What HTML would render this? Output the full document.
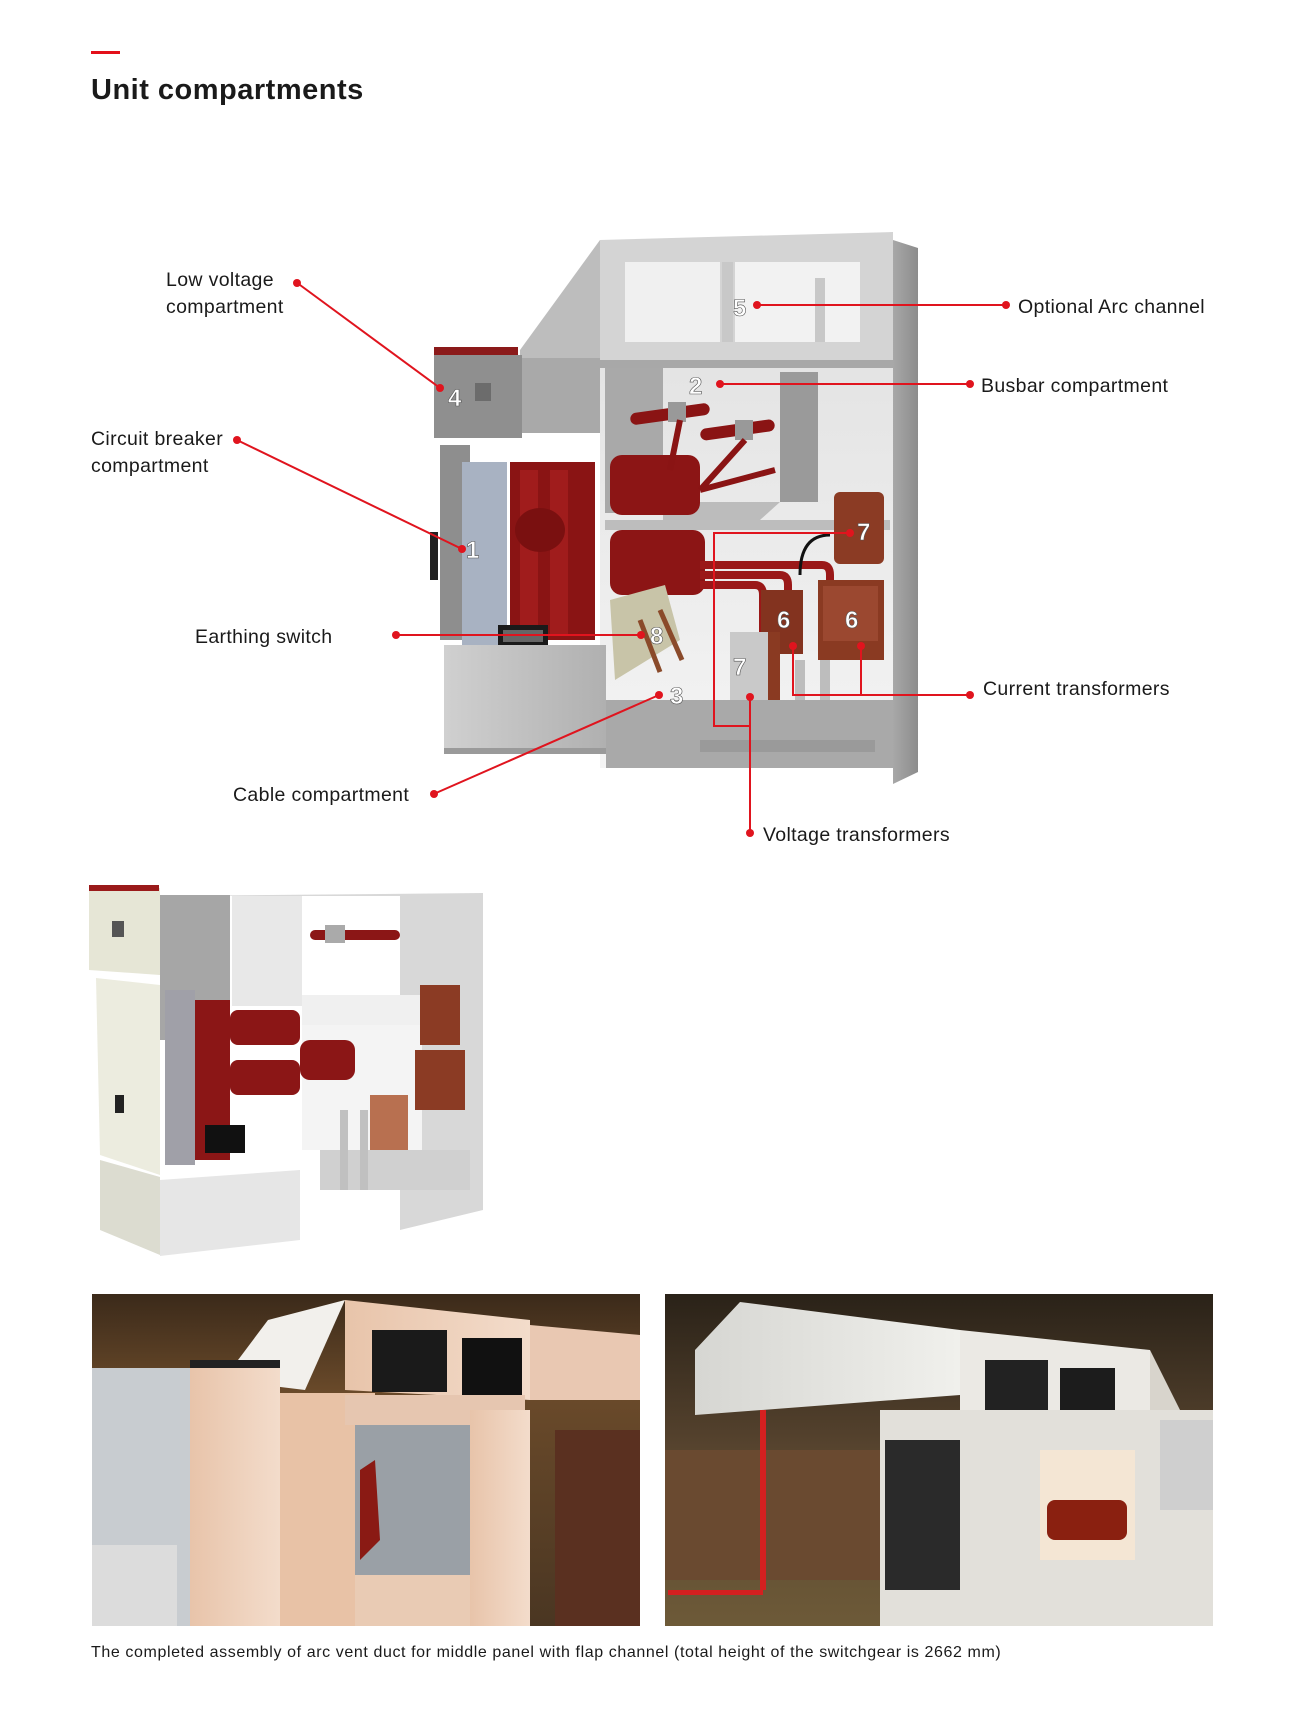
<!DOCTYPE html>
<html><head><meta charset="utf-8"><style>
html,body{margin:0;padding:0;background:#fff;}
body{width:1303px;height:1721px;position:relative;overflow:hidden;font-family:"Liberation Sans",sans-serif;}
</style></head><body>
<svg width="1303" height="1721" viewBox="0 0 1303 1721" xmlns="http://www.w3.org/2000/svg" style="position:absolute;left:0;top:0">
<defs>
<linearGradient id="gside" x1="0" x2="1"><stop offset="0" stop-color="#a8a8a8"/><stop offset="1" stop-color="#8c8c8c"/></linearGradient>
<linearGradient id="gint" x1="0" y1="0" x2="0" y2="1"><stop offset="0" stop-color="#e4e4e4"/><stop offset="1" stop-color="#f4f4f4"/></linearGradient>
<linearGradient id="gwall" x1="0" x2="1"><stop offset="0" stop-color="#d0d0d0"/><stop offset="1" stop-color="#b0b0b0"/></linearGradient>
<linearGradient id="gp1" x1="0" y1="0" x2="0" y2="1"><stop offset="0" stop-color="#3b2a1a"/><stop offset="0.3" stop-color="#6a4a2a"/><stop offset="1" stop-color="#4a3622"/></linearGradient>
<linearGradient id="gp2" x1="0" y1="0" x2="0" y2="1"><stop offset="0" stop-color="#2a2218"/><stop offset="0.5" stop-color="#5a4630"/><stop offset="1" stop-color="#6d5a38"/></linearGradient>
<linearGradient id="beige" x1="0" x2="1"><stop offset="0" stop-color="#e8c4aa"/><stop offset="1" stop-color="#f3dccb"/></linearGradient>
<linearGradient id="silver" x1="0" x2="1"><stop offset="0" stop-color="#d6d6d2"/><stop offset="1" stop-color="#f0f0ec"/></linearGradient>
</defs>

<rect x="91" y="51" width="29" height="3" fill="#e3101a"/>
<text x="91" y="99" font-family="Liberation Sans, sans-serif" font-weight="bold" font-size="29" letter-spacing="0.5" fill="#1a1a1a">Unit compartments</text>

<!-- ===== main diagram ===== -->
<polygon points="893,240 918,248 918,772 893,784" fill="url(#gside)"/>
<polygon points="600,240 893,232 893,365 600,365" fill="#d4d4d4"/>
<rect x="625" y="262" width="95" height="80" fill="#f0f0f0"/>
<rect x="735" y="262" width="125" height="80" fill="#f2f2f2"/>
<rect x="722" y="262" width="11" height="80" fill="#c8c8c8"/>
<rect x="815" y="278" width="10" height="64" fill="#c8c8c8"/>
<polygon points="520,350 600,240 600,365 520,365" fill="#bdbdbd"/>
<rect x="600" y="360" width="293" height="8" fill="#a8a8a8"/>
<rect x="600" y="368" width="293" height="400" fill="url(#gint)"/>
<rect x="605" y="368" width="58" height="145" fill="#a9a9a9"/>
<rect x="780" y="372" width="38" height="130" fill="#9a9a9a"/>
<polygon points="663,502 780,502 760,520 663,520" fill="#bcbcbc"/>
<rect x="605" y="520" width="285" height="10" fill="#bdbdbd"/>
<rect x="434" y="347" width="84" height="8" fill="#8b1a1a"/>
<rect x="434" y="355" width="88" height="83" fill="#8f8f8f"/>
<rect x="522" y="358" width="78" height="75" fill="#a9a9a9"/>
<rect x="475" y="383" width="16" height="18" fill="#6c6c6c"/>
<rect x="440" y="445" width="30" height="195" fill="#8e8e8e"/>
<rect x="462" y="462" width="45" height="185" fill="#a8b2c2"/>
<rect x="430" y="532" width="8" height="48" fill="#222"/>
<rect x="510" y="462" width="85" height="178" fill="#8a1414"/>
<rect x="520" y="470" width="18" height="165" fill="#a01c1c"/>
<rect x="550" y="470" width="18" height="165" fill="#a01c1c"/>
<ellipse cx="540" cy="530" rx="25" ry="22" fill="#7a1010"/>
<rect x="610" y="455" width="90" height="60" rx="12" fill="#8c1515"/>
<rect x="610" y="530" width="95" height="65" rx="12" fill="#8c1515"/>
<rect x="630" y="408" width="80" height="12" rx="6" fill="#8a1414" transform="rotate(-8 670 414)"/>
<rect x="700" y="424" width="75" height="12" rx="6" fill="#8a1414" transform="rotate(-8 737 430)"/>
<rect x="668" y="402" width="18" height="20" fill="#999"/>
<rect x="735" y="420" width="18" height="20" fill="#999"/>
<line x1="680" y1="420" x2="670" y2="470" stroke="#8a1414" stroke-width="6"/>
<line x1="745" y1="440" x2="700" y2="490" stroke="#8a1414" stroke-width="6"/>
<line x1="700" y1="490" x2="775" y2="470" stroke="#8a1414" stroke-width="6"/>
<path d="M700 565 H822 Q830 565 830 575 V600" stroke="#9a1818" stroke-width="8" fill="none"/>
<path d="M700 575 H780 Q788 575 788 585 V625" stroke="#9a1818" stroke-width="8" fill="none"/>
<path d="M700 585 H755 Q763 585 763 595 V640" stroke="#9a1818" stroke-width="8" fill="none"/>
<path d="M830 535 Q800 535 800 575" stroke="#111" stroke-width="3" fill="none"/>
<rect x="834" y="492" width="50" height="72" rx="6" fill="#8b3b24"/>
<rect x="818" y="580" width="66" height="80" fill="#8a3a22"/>
<rect x="823" y="586" width="55" height="55" fill="#9b4830"/>
<rect x="761" y="590" width="42" height="64" fill="#83331f"/>
<rect x="730" y="632" width="38" height="82" fill="#c9c9c9"/>
<rect x="768" y="632" width="12" height="82" fill="#8a3a22"/>
<rect x="795" y="660" width="10" height="70" fill="#bdbdbd"/>
<rect x="820" y="660" width="10" height="70" fill="#bdbdbd"/>
<polygon points="610,600 665,585 680,640 615,680" fill="#c8c4a8"/>
<line x1="640" y1="620" x2="660" y2="672" stroke="#8a4a2a" stroke-width="5"/>
<line x1="660" y1="610" x2="682" y2="660" stroke="#8a4a2a" stroke-width="5"/>
<rect x="444" y="645" width="162" height="103" fill="url(#gwall)"/>
<rect x="498" y="625" width="50" height="20" fill="#1a1a1a"/>
<rect x="503" y="630" width="40" height="12" fill="#666"/>
<rect x="606" y="700" width="287" height="68" fill="#a9a9a9"/>
<rect x="700" y="740" width="175" height="12" fill="#9a9a9a"/>
<rect x="444" y="748" width="162" height="6" fill="#9a9a9a"/>

<g font-family="Liberation Sans, sans-serif" font-weight="bold" font-size="24" fill="#fff" stroke="#555" stroke-width="0.6">
<text x="448" y="406">4</text>
<text x="733" y="316">5</text>
<text x="689" y="394">2</text>
<text x="466" y="558">1</text>
<text x="650" y="644">8</text>
<text x="670" y="704">3</text>
<text x="857" y="540">7</text>
<text x="777" y="628">6</text>
<text x="845" y="628">6</text>
<text x="733" y="675">7</text>
</g>

<g stroke="#e0141e" stroke-width="2" fill="none">
<line x1="300" y1="285" x2="440" y2="388"/>
<line x1="757" y1="305" x2="1006" y2="305"/>
<line x1="720" y1="384" x2="970" y2="384"/>
<line x1="239" y1="441" x2="462" y2="549"/>
<line x1="396" y1="635" x2="641" y2="635"/>
<line x1="436" y1="793" x2="659" y2="695"/>
<polyline points="850,533 714,533 714,726 750,726"/>
<line x1="750" y1="697" x2="750" y2="833"/>
<polyline points="793,646 793,695 970,695"/>
<line x1="861" y1="646" x2="861" y2="695"/>
</g>
<g fill="#e0141e">
<circle cx="297" cy="283" r="4"/><circle cx="440" cy="388" r="4"/>
<circle cx="757" cy="305" r="4"/><circle cx="1006" cy="305" r="4"/>
<circle cx="720" cy="384" r="4"/><circle cx="970" cy="384" r="4"/>
<circle cx="237" cy="440" r="4"/><circle cx="462" cy="549" r="4"/>
<circle cx="396" cy="635" r="4"/><circle cx="641" cy="635" r="4"/>
<circle cx="434" cy="794" r="4"/><circle cx="659" cy="695" r="4"/>
<circle cx="850" cy="533" r="4"/><circle cx="750" cy="697" r="4"/><circle cx="750" cy="833" r="4"/>
<circle cx="793" cy="646" r="4"/><circle cx="861" cy="646" r="4"/><circle cx="970" cy="695" r="4"/>
</g>
<g font-family="Liberation Sans, sans-serif" font-size="19.5" letter-spacing="0.35" fill="#1a1a1a">
<text x="166" y="286">Low voltage</text>
<text x="166" y="313">compartment</text>
<text x="1018" y="313">Optional Arc channel</text>
<text x="981" y="392">Busbar compartment</text>
<text x="91" y="445">Circuit breaker</text>
<text x="91" y="472">compartment</text>
<text x="195" y="643">Earthing switch</text>
<text x="983" y="695">Current transformers</text>
<text x="233" y="801">Cable compartment</text>
<text x="763" y="841">Voltage transformers</text>
</g>

<!-- ===== second diagram ===== -->
<polygon points="160,896 483,893 483,1210 400,1230 400,896" fill="#d8d8d8"/>
<rect x="232" y="896" width="70" height="110" fill="#e8e8e8"/>
<rect x="160" y="895" width="70" height="145" fill="#a6a6a6"/>
<polygon points="89,885 160,888 160,975 89,970" fill="#e6e6d6"/>
<rect x="89" y="885" width="70" height="6" fill="#9a1a1a"/>
<rect x="112" y="921" width="12" height="16" fill="#555"/>
<polygon points="96,978 160,985 160,1175 100,1155" fill="#ececdf"/>
<rect x="115" y="1095" width="9" height="18" fill="#222"/>
<polygon points="100,1160 160,1177 160,1255 100,1230" fill="#dcdcd0"/>
<polygon points="160,1180 300,1170 300,1240 160,1256" fill="#e6e6e6"/>
<rect x="165" y="990" width="30" height="175" fill="#a0a0a8"/>
<rect x="195" y="1000" width="35" height="160" fill="#8b1616"/>
<rect x="230" y="1010" width="70" height="35" rx="8" fill="#8b1616"/>
<rect x="230" y="1060" width="70" height="35" rx="8" fill="#8b1616"/>
<rect x="205" y="1125" width="40" height="28" fill="#111"/>
<rect x="302" y="995" width="120" height="30" fill="#f0f0f0"/>
<rect x="302" y="1025" width="120" height="125" fill="#f4f4f4"/>
<rect x="300" y="1040" width="55" height="40" rx="10" fill="#8b1616"/>
<rect x="310" y="930" width="90" height="10" rx="5" fill="#8b1616"/>
<rect x="325" y="925" width="20" height="18" fill="#aaa"/>
<rect x="420" y="985" width="40" height="60" fill="#8b3b24"/>
<rect x="415" y="1050" width="50" height="60" fill="#8b3b24"/>
<rect x="370" y="1095" width="38" height="70" fill="#b87050"/>
<rect x="320" y="1150" width="150" height="40" fill="#d0d0d0"/>
<rect x="340" y="1110" width="8" height="80" fill="#c0c0c0"/>
<rect x="360" y="1110" width="8" height="80" fill="#c0c0c0"/>

<!-- ===== photos ===== -->
<g>
<rect x="92" y="1294" width="548" height="332" fill="url(#gp1)"/>
<polygon points="223,1380 268,1320 345,1300 305,1390" fill="#f2f0ec"/>
<polygon points="345,1300 530,1320 530,1400 345,1390" fill="url(#beige)"/>
<rect x="372" y="1330" width="75" height="62" fill="#1a1a1a"/>
<rect x="462" y="1338" width="60" height="60" fill="#111"/>
<polygon points="530,1325 640,1335 640,1400 530,1400" fill="#e9c8b2"/>
<rect x="92" y="1368" width="100" height="258" fill="#c8ccd0"/>
<rect x="92" y="1545" width="85" height="81" fill="#dcdcdc"/>
<rect x="190" y="1362" width="90" height="264" fill="url(#beige)"/>
<rect x="190" y="1360" width="90" height="8" fill="#222"/>
<rect x="280" y="1393" width="95" height="233" fill="#e8c2a6"/>
<rect x="345" y="1395" width="180" height="30" fill="#e6c6b0"/>
<rect x="355" y="1425" width="115" height="150" fill="#9aa0a6"/>
<path d="M360 1470 L375 1460 L380 1540 L360 1560 Z" fill="#8a1a14"/>
<rect x="355" y="1575" width="115" height="51" fill="#e9cbb4"/>
<rect x="470" y="1410" width="60" height="216" fill="url(#beige)"/>
<rect x="555" y="1430" width="85" height="196" fill="#5a3020"/>
</g>
<g>
<rect x="665" y="1294" width="548" height="332" fill="url(#gp2)"/>
<polygon points="695,1350 740,1302 960,1330 960,1395 695,1415" fill="url(#silver)"/>
<polygon points="960,1330 1150,1350 1150,1410 960,1410" fill="#ebe9e4"/>
<rect x="985" y="1360" width="63" height="52" fill="#222"/>
<rect x="1060" y="1368" width="55" height="50" fill="#1c1c1c"/>
<polygon points="1150,1350 1185,1420 1150,1420" fill="#d8d4cc"/>
<rect x="880" y="1410" width="333" height="216" fill="#e2e0da"/>
<rect x="885" y="1440" width="75" height="150" fill="#2a2a2a"/>
<rect x="1040" y="1450" width="95" height="110" fill="#f4e6d4"/>
<rect x="1047" y="1500" width="80" height="40" rx="8" fill="#8a2010"/>
<rect x="665" y="1450" width="215" height="130" fill="#6a4a30"/>
<rect x="760" y="1410" width="6" height="180" fill="#d42020"/>
<rect x="668" y="1590" width="95" height="5" fill="#d42020"/>
<rect x="1160" y="1420" width="53" height="90" fill="#cfcfcf"/>
</g>

<text x="91" y="1657" font-family="Liberation Sans, sans-serif" font-size="16" letter-spacing="0.6" fill="#1a1a1a">The completed assembly of arc vent duct for middle panel with flap channel (total height of the switchgear is 2662 mm)</text>
</svg>
</body></html>
